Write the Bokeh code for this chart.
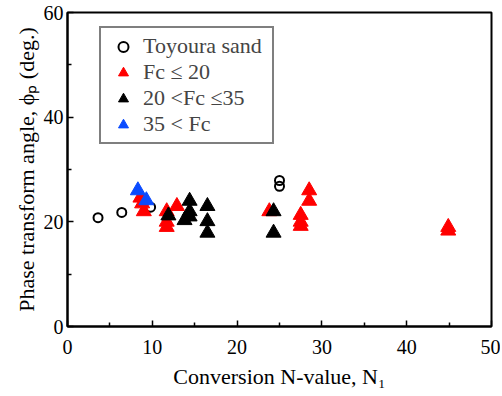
from bokeh.plotting import figure
from bokeh.models import Range1d, FixedTicker, Legend, LegendItem
from bokeh.embed import file_html
from bokeh.resources import INLINE

# Data
toyoura_x = [3.6, 6.4, 9.8, 25.0, 25.0]
toyoura_y = [20.8, 21.8, 22.8, 27.9, 26.8]

fc_low_x = [8.6, 8.8, 9.0, 11.7, 11.7, 11.7, 12.9, 23.8, 27.5, 27.5, 27.5, 28.5, 28.5, 44.9, 44.9]
fc_low_y = [24.6, 23.5, 22.0, 22.0, 20.0, 19.0, 23.0, 22.0, 21.3, 20.0, 19.2, 26.0, 24.0, 19.0, 18.3]

fc_mid_x = [11.9, 13.8, 14.4, 14.4, 14.4, 16.5, 16.5, 16.5, 24.3, 24.3]
fc_mid_y = [21.2, 20.3, 24.0, 22.0, 21.0, 23.0, 20.1, 17.9, 22.0, 17.9]

fc_high_x = [8.3, 9.3]
fc_high_y = [26.0, 24.1]

legend_labels = ["Toyoura sand", "Fc \u2264 20", "20 <Fc \u226435", "35 < Fc"]
x_ticks = [0, 10, 20, 30, 40, 50]
y_ticks = [0, 20, 40, 60]
x_minor = [5, 15, 25, 35, 45]
y_minor = [10, 30, 50]

FONT = "Liberation Serif"

p = figure(width=500, height=394, output_backend="svg", toolbar_location=None,
           x_range=Range1d(0, 50), y_range=Range1d(0, 60),
           min_border_left=67, min_border_right=9, min_border_top=12, min_border_bottom=68)
p.frame_width = 424
p.frame_height = 314

p.xgrid.visible = False
p.ygrid.visible = False
p.outline_line_color = "black"
p.outline_line_width = 2
p.outline_line_alpha = 1.0
p.background_fill_color = "white"
p.border_fill_color = "white"

p.xaxis.ticker = FixedTicker(ticks=x_ticks, minor_ticks=x_minor)
p.yaxis.ticker = FixedTicker(ticks=y_ticks, minor_ticks=y_minor)

for ax in (p.xaxis, p.yaxis):
    ax.axis_line_width = 2
    ax.axis_line_color = "black"
    ax.major_tick_in = 6
    ax.major_tick_out = 0
    ax.minor_tick_in = 4
    ax.minor_tick_out = 0
    ax.major_tick_line_width = 1.5
    ax.minor_tick_line_width = 1.5
    ax.major_tick_line_color = "black"
    ax.minor_tick_line_color = "black"
    ax.major_label_text_font = FONT
    ax.major_label_text_font_size = "20px"
    ax.major_label_text_color = "black"
    ax.axis_label_text_font = FONT
    ax.axis_label_text_font_size = "22px"
    ax.axis_label_text_font_style = "normal"
    ax.axis_label_text_color = "black"

p.xaxis.axis_label = "Conversion N-value, N\u2081"
p.yaxis.axis_label = "Phase transform angle, \u03d5\u209a (deg.)"
p.xaxis.major_label_standoff = 13
p.xaxis.axis_label_standoff = 7
p.yaxis.major_label_standoff = 4
p.yaxis.axis_label_standoff = 2

r_toy = p.scatter(toyoura_x, toyoura_y, marker="circle", size=9, fill_color=None,
                  line_color="black", line_width=2)
r_low = p.scatter(fc_low_x, fc_low_y, marker="triangle", size=15, fill_color="#ff0000",
                  line_color="#ff0000", line_width=1)
r_mid = p.scatter(fc_mid_x, fc_mid_y, marker="triangle", size=15, fill_color="black",
                  line_color="black", line_width=1)
r_high = p.scatter(fc_high_x, fc_high_y, marker="triangle", size=15, fill_color="#0a4bff",
                   line_color="#0a4bff", line_width=1)

legend = Legend(items=[LegendItem(label=legend_labels[0], renderers=[r_toy]),
                       LegendItem(label=legend_labels[1], renderers=[r_low]),
                       LegendItem(label=legend_labels[2], renderers=[r_mid]),
                       LegendItem(label=legend_labels[3], renderers=[r_high])],
                location=(32, 182), margin=0, padding=5, spacing=-1,
                glyph_width=34, glyph_height=25, label_standoff=3,
                label_text_font=FONT, label_text_font_size="22px",
                label_height=25, label_width=124,
                border_line_color="black", border_line_width=2,
                background_fill_color="white", background_fill_alpha=1.0)
p.add_layout(legend, "center")

open("out.html", "w").write(file_html(p, INLINE))
